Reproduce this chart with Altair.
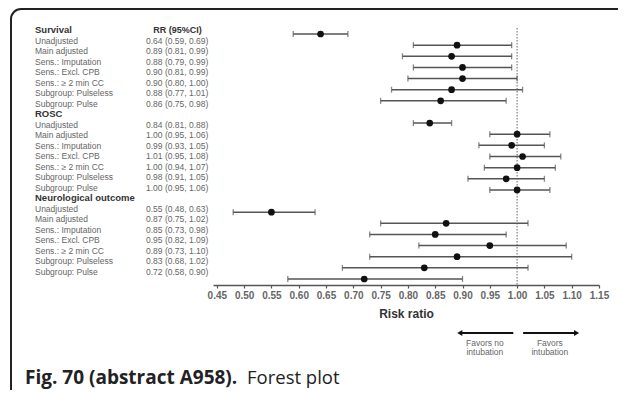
import altair as alt
import pandas as pd

groups = ["Survival", "ROSC", "Neurological outcome"]
analyses = ["Unadjusted", "Main adjusted", "Sens.: Imputation", "Sens.: Excl. CPB",
            "Sens.: \u2265 2 min CC", "Subgroup: Pulseless", "Subgroup: Pulse"]

rr_survival = [0.64, 0.89, 0.88, 0.90, 0.90, 0.88, 0.86]
lo_survival = [0.59, 0.81, 0.79, 0.81, 0.80, 0.77, 0.75]
hi_survival = [0.69, 0.99, 0.99, 0.99, 1.00, 1.01, 0.98]

rr_rosc = [0.84, 1.00, 0.99, 1.01, 1.00, 0.98, 1.00]
lo_rosc = [0.81, 0.95, 0.93, 0.95, 0.94, 0.91, 0.95]
hi_rosc = [0.88, 1.06, 1.05, 1.08, 1.07, 1.05, 1.06]

rr_neuro = [0.55, 0.87, 0.85, 0.95, 0.89, 0.83, 0.72]
lo_neuro = [0.48, 0.75, 0.73, 0.82, 0.73, 0.68, 0.58]
hi_neuro = [0.63, 1.02, 0.98, 1.09, 1.10, 1.02, 0.90]

tick_values = [0.45, 0.50, 0.55, 0.60, 0.65, 0.70, 0.75, 0.80, 0.85, 0.90,
               0.95, 1.00, 1.05, 1.10, 1.15]
x_domain = [0.443, 1.15]
ref_value = 1.0

arrow_left = [0.895, 0.993]
arrow_right = [1.011, 1.109]
arrow_text = ["Favors no\nintubation", "Favors\nintubation"]
arrow_text_x = [0.941, 1.060]

caption_bold = "Fig. 70 (abstract A958)."
caption_rest = "Forest plot"

FONT = "Liberation Sans"

series = [(rr_survival, lo_survival, hi_survival),
          (rr_rosc, lo_rosc, hi_rosc),
          (rr_neuro, lo_neuro, hi_neuro)]

rows, text_rows, point_domain, text_domain = [], [], [], []
for gi, (g, (rrs, los, his)) in enumerate(zip(groups, series)):
    if gi > 0:
        point_domain.append(f"gap{gi}")
    hk = f"{g}|header"
    text_domain.append(hk)
    text_rows.append(dict(key=hk, label=g, header=True, rrtxt=""))
    for a, r, l, h in zip(analyses, rrs, los, his):
        k = f"{g}|{a}"
        point_domain.append(k)
        text_domain.append(k)
        rows.append(dict(key=k, rr=r, lo=l, hi=h))
        text_rows.append(dict(key=k, label=a, header=False,
                              rrtxt=f"{r:.2f} ({l:.2f}, {h:.2f})"))

df = pd.DataFrame(rows)
tdf = pd.DataFrame(text_rows)

xscale = alt.Scale(domain=x_domain, nice=False, zero=False)
xaxis = alt.Axis(values=tick_values, format=".2f", grid=False,
                 labelOverlap=False, labelBound=False, labelFlush=False,
                 labelFont=FONT, labelFontSize=10, labelFontWeight="bold",
                 labelColor="#666", tickColor="#555", domainColor="#555",
                 domainWidth=1.5, tickSize=3, tickWidth=1.2, labelPadding=2,
                 title="Risk ratio", titleFont=FONT, titleFontSize=12,
                 titleFontWeight="bold", titleColor="#333", titlePadding=8)

yp = alt.Y("key:N", scale=alt.Scale(type="point", domain=point_domain,
                                     range=[8, 253], padding=0), axis=None)
yt = alt.Y("key:N", scale=alt.Scale(type="point", domain=text_domain,
                                     range=[4, 246], padding=0), axis=None)

base = alt.Chart(df)

bars = base.mark_rule(color="#555", strokeWidth=1.5).encode(
    x=alt.X("lo:Q", scale=xscale, axis=xaxis), x2="hi:Q", y=yp)
cap_lo = base.mark_tick(color="#555", size=6, thickness=1.3, orient="vertical").encode(
    x=alt.X("lo:Q", scale=xscale, axis=xaxis), y=yp)
cap_hi = base.mark_tick(color="#555", size=6, thickness=1.3, orient="vertical").encode(
    x=alt.X("hi:Q", scale=xscale, axis=xaxis), y=yp)
pts = base.mark_circle(size=45, color="#111", opacity=1).encode(
    x=alt.X("rr:Q", scale=xscale, axis=xaxis), y=yp)

ref = alt.Chart(pd.DataFrame({"v": [ref_value]})).mark_rule(
    color="#666", strokeWidth=1, strokeDash=[1.5, 1.5]).encode(
    x=alt.X("v:Q", scale=xscale, axis=xaxis), y=alt.value(2), y2=alt.value(259))

tbase = alt.Chart(tdf)
hdr = tbase.transform_filter("datum.header").mark_text(
    align="left", baseline="middle", font=FONT, fontSize=9.5,
    fontWeight="bold", color="#333").encode(
    x=alt.value(-178), y=yt, text="label:N")
lbl = tbase.transform_filter("!datum.header").mark_text(
    align="left", baseline="middle", font=FONT, fontSize=8.5,
    color="#666").encode(x=alt.value(-178), y=yt, text="label:N")
rrt = tbase.transform_filter("!datum.header").mark_text(
    align="left", baseline="middle", font=FONT, fontSize=8.5,
    color="#666").encode(x=alt.value(-67), y=yt, text="rrtxt:N")
rrh = alt.Chart(pd.DataFrame({"key": [text_domain[0]], "t": ["RR (95%CI)"]})).mark_text(
    align="center", baseline="middle", font=FONT, fontSize=9,
    fontWeight="bold", color="#333").encode(x=alt.value(-35.5), y=yt, text="t:N")

adf = pd.DataFrame({"a": [arrow_left[0], arrow_right[0]],
                    "b": [arrow_left[1], arrow_right[1]]})
arrows = alt.Chart(adf).mark_rule(color="#111", strokeWidth=2).encode(
    x=alt.X("a:Q", scale=xscale, axis=xaxis), x2="b:Q", y=alt.value(307))
head_l = alt.Chart(pd.DataFrame({"v": [arrow_left[0]]})).mark_point(
    shape="triangle-left", filled=True, size=35, color="#111", opacity=1).encode(
    x=alt.X("v:Q", scale=xscale, axis=xaxis), y=alt.value(307))
head_r = alt.Chart(pd.DataFrame({"v": [arrow_right[1]]})).mark_point(
    shape="triangle-right", filled=True, size=35, color="#111", opacity=1).encode(
    x=alt.X("v:Q", scale=xscale, axis=xaxis), y=alt.value(307))
atxt = alt.Chart(pd.DataFrame({"v": arrow_text_x, "t": arrow_text})).mark_text(
    align="center", baseline="top", font=FONT, fontSize=8.5, color="#666",
    lineBreak="\n", lineHeight=9.5).encode(
    x=alt.X("v:Q", scale=xscale, axis=xaxis), y=alt.value(312.5), text="t:N")

cap1 = alt.Chart(pd.DataFrame({"t": [caption_bold]})).mark_text(
    align="left", baseline="alphabetic", font="Open Sans", fontSize=19,
    fontWeight="bold", color="#222").encode(
    x=alt.value(-188), y=alt.value(358), text="t:N")
cap2 = alt.Chart(pd.DataFrame({"t": [caption_rest]})).mark_text(
    align="left", baseline="alphabetic", font="Open Sans", fontSize=18.5,
    color="#222").encode(x=alt.value(34), y=alt.value(358), text="t:N")

frame = alt.Chart(pd.DataFrame({"a": [0]})).mark_rect(
    fillOpacity=0, stroke="#222", strokeWidth=2, cornerRadius=10).encode(
    x=alt.value(-202), x2=alt.value(700), y=alt.value(-17), y2=alt.value(600))

chart = alt.layer(frame, ref, bars, cap_lo, cap_hi, pts, hdr, lbl, rrt, rrh,
                  arrows, head_l, head_r, atxt, cap1, cap2).resolve_scale(
    y="independent").properties(
    width=386, height=259,
    autosize=alt.AutoSizeParams(type="none"),
    padding={"left": 205, "top": 18, "right": 19, "bottom": 105},
    background="white").configure_view(stroke=None).configure_axis(
    labelOverlap=False)

chart.save("out.html", embed_options={"renderer": "svg", "actions": False})
